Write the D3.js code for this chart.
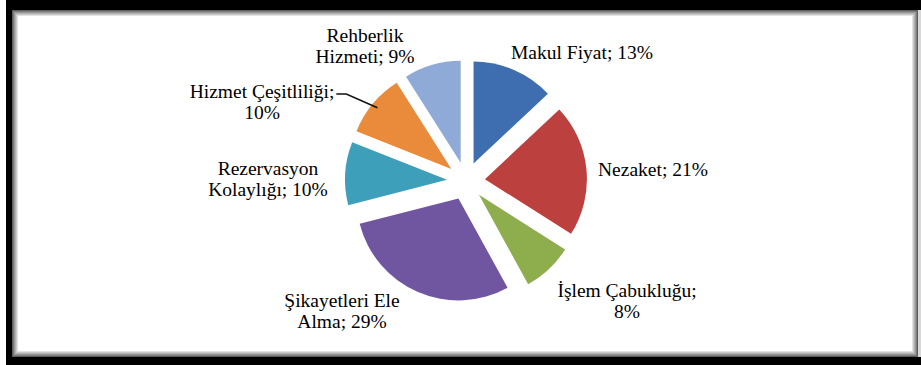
<!DOCTYPE html>
<html>
<head>
<meta charset="utf-8">
<script src="https://cdn.jsdelivr.net/npm/d3@7/dist/d3.min.js"></script>
<style>
  html, body { margin: 0; padding: 0; background: #fff; }
  svg { display: block; }
</style>
</head>
<body>
<svg id="chart" width="921" height="365"></svg>
<script>
// Customer satisfaction factors (share of responses, %)
const categories = [
  "Makul Fiyat",
  "Nezaket",
  "İşlem Çabukluğu",
  "Şikayetleri Ele Alma",
  "Rezervasyon Kolaylığı",
  "Hizmet Çeşitliliği",
  "Rehberlik Hizmeti"
];
const values = [13, 21, 8, 29, 10, 10, 9];
const colors = ["#3F6EB0", "#BC403D", "#8EAE4E", "#7055A0", "#3D9FBA", "#E98B3B", "#8FAAD6"];

// Label placement: text block centre / first baseline relative to pie centre,
// and how many words go on the first line (0 = single line).
const labelLayout = [
  { dx: 116, dy: -122, firstWords: 0 },
  { dx: 187, dy: -5, firstWords: 0 },
  { dx: 161, dy: 116, firstWords: 2 },
  { dx: -124, dy: 126, firstWords: 2 },
  { dx: -198, dy: -6, firstWords: 1 },
  { dx: -204, dy: -83, firstWords: 2, leader: true },
  { dx: -101, dy: -139, firstWords: 1 }
];

const W = 921, H = 365;
const svg = d3.select("#chart");

// ---- frame: black outer band with a grey bevel inside ----
const frame = svg.append("g");
frame.append("rect").attr("x", 0).attr("y", 0).attr("width", W).attr("height", H).attr("fill", "#fff");
frame.append("rect").attr("x", 6).attr("y", 0).attr("width", W - 6).attr("height", 10).attr("fill", "#000");
frame.append("rect").attr("x", 6).attr("y", 0).attr("width", 6).attr("height", H).attr("fill", "#000");
frame.append("rect").attr("x", 6).attr("y", 357).attr("width", W - 6).attr("height", H - 357).attr("fill", "#000");
frame.append("rect").attr("x", 918).attr("y", 10).attr("width", 3).attr("height", 347).attr("fill", "#d8d8d8");
const bevel = ["#5e5e5e", "#7c7c7c", "#979797", "#b0b0b0", "#c9c9c9", "#e2e2e2"];
bevel.forEach((c, i) => {
  frame.append("rect")
    .attr("x", 12.5 + i).attr("y", 10.5 + i)
    .attr("width", 918 - 12 - 1 - 2 * i).attr("height", 357 - 10 - 1 - 2 * i)
    .attr("fill", "none").attr("stroke", c).attr("stroke-width", 1);
});

// ---- exploded pie ----
const cx = 466, cy = 181, radius = 102, explode = 19;
const data = categories.map((c, i) => ({ name: c, value: values[i], color: colors[i], layout: labelLayout[i] }));
const pie = d3.pie().value(d => d.value).sort(null).startAngle(0).endAngle(2 * Math.PI);
const arc = d3.arc().innerRadius(0).outerRadius(radius);
const arcs = pie(data);

const g = svg.append("g").attr("transform", `translate(${cx},${cy})`);

g.selectAll("path.slice")
  .data(arcs)
  .join("path")
  .attr("class", "slice")
  .attr("transform", d => {
    const m = (d.startAngle + d.endAngle) / 2;
    return `translate(${Math.sin(m) * explode},${-Math.cos(m) * explode})`;
  })
  .attr("d", arc)
  .attr("fill", d => d.data.color);

// ---- data labels ----
const lineH = 21;
arcs.forEach(d => {
  const L = d.data.layout;
  const full = `${d.data.name}; ${d.data.value}%`;
  const words = full.split(" ");
  const lines = L.firstWords ? [words.slice(0, L.firstWords).join(" "), words.slice(L.firstWords).join(" ")] : [full];
  const t = g.append("text")
    .attr("text-anchor", "middle")
    .style("font-family", "Liberation Serif")
    .style("font-size", "19.5px")
    .attr("fill", "#000");
  lines.forEach((ln, i) => {
    t.append("tspan").attr("x", L.dx).attr("y", L.dy + i * lineH).text(ln);
  });
  if (L.leader) {
    // leader from the end of the first line to the slice's outer edge
    const m = (d.startAngle + d.endAngle) / 2;
    const ox = Math.sin(m) * explode, oy = -Math.cos(m) * explode;
    const ex = ox + Math.sin(m) * (radius - 6), ey = oy - Math.cos(m) * (radius - 6);
    const first = t.select("tspan").node().getBBox();
    const sx = first.x + first.width + 2, sy = L.dy - 4;
    g.append("path")
      .attr("d", `M${sx},${sy} H${sx + 10} L${ex},${ey}`)
      .attr("fill", "none").attr("stroke", "#111").attr("stroke-width", 1.5);
  }
});
</script>
</body>
</html>
